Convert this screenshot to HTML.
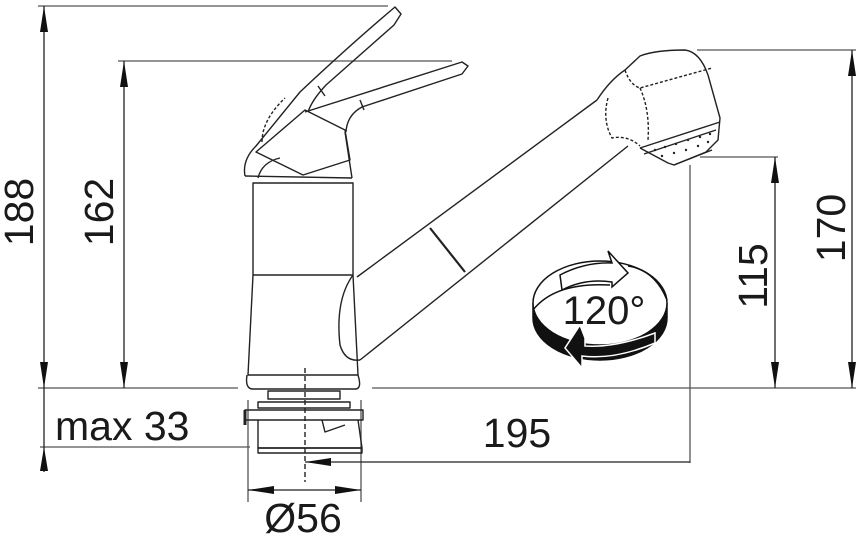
<!DOCTYPE html>
<html><head><meta charset="utf-8"><style>
html,body{margin:0;padding:0;background:#fff;}
svg{display:block;}
text{font-family:"Liberation Sans",sans-serif;fill:#1a1a1a;}
</style></head><body>
<svg width="860" height="536" viewBox="0 0 860 536" xmlns="http://www.w3.org/2000/svg">
<g stroke="#555" stroke-width="1.3" fill="none">
<line x1="38" y1="6" x2="388" y2="6"/>
<line x1="118" y1="61" x2="452" y2="61"/>
<line x1="38" y1="388" x2="238" y2="388"/>
<line x1="372" y1="388" x2="856" y2="388"/>
<line x1="40" y1="447" x2="250" y2="447"/>
<line x1="697" y1="50" x2="856" y2="50"/>
<line x1="700" y1="157" x2="778" y2="157"/>
<line x1="690" y1="165" x2="690" y2="463"/>
<line x1="248" y1="400" x2="248" y2="502"/>
<line x1="361" y1="400" x2="361" y2="502"/>
</g>
<g stroke="#222" stroke-width="1.3" fill="none">
<line x1="44" y1="6" x2="44" y2="388"/>
<line x1="124" y1="61" x2="124" y2="388"/>
<line x1="44" y1="388" x2="44" y2="447"/>
<line x1="44" y1="447" x2="44" y2="472"/>
<line x1="852" y1="50" x2="852" y2="388"/>
<line x1="775" y1="157" x2="775" y2="388"/>
<line x1="690" y1="462" x2="305" y2="462"/>
<line x1="248" y1="490" x2="361" y2="490"/>
</g>
<g fill="#111">
<polygon points="44,6 40,32 48,32"/><polygon points="44,388 40,362 48,362"/>
<polygon points="124,61 120,87 128,87"/><polygon points="124,388 120,362 128,362"/>
<polygon points="44,447 40,471 48,471"/>
<polygon points="852,50 848,76 856,76"/><polygon points="852,388 848,362 856,362"/>
<polygon points="775,157 771,183 779,183"/><polygon points="775,388 771,362 779,362"/>
<polygon points="305,462 331,458 331,466"/>
<polygon points="248,490 274,486 274,494"/><polygon points="361,490 335,486 335,494"/>
</g>
<text transform="translate(33,212) rotate(-90)" text-anchor="middle" font-size="41">188</text>
<text transform="translate(113,212) rotate(-90)" text-anchor="middle" font-size="41">162</text>
<text transform="translate(845,228) rotate(-90)" text-anchor="middle" font-size="41">170</text>
<text transform="translate(767,276) rotate(-90)" text-anchor="middle" font-size="41">115</text>
<text x="55" y="440" font-size="41">max 33</text>
<text x="517" y="447" text-anchor="middle" font-size="41">195</text>
<text x="303" y="532" text-anchor="middle" font-size="41">Ø56</text>

<g stroke="#222" stroke-width="1.4" fill="none" stroke-linejoin="round">
<path d="M245,176 Q242,160 256,146 L300,92 Q350,45 395,7 L401,14 L394,25 L326,85 Q312,100 308,112"/>
<path d="M262,142 Q262,120 285,98" stroke-dasharray="3,2"/>
<line x1="318" y1="86" x2="325" y2="96"/>
<path d="M305,112 L462,62 L468,66 L462,74 L362,107 Q347,115 346,132"/>
<line x1="360" y1="100" x2="364" y2="110"/>
<path d="M256,152 L305,110 L345,130 L350,160 L303,175 Z"/>
<path d="M245,176 L352,178"/>
<path d="M258,178 Q262,162 280,158" />
<path d="M345,132 L352,178"/>
<rect x="253" y="183" width="100" height="92"/>
<path d="M253,275 L248,375 L358,375 L353,275"/>
<path d="M247,375 Q245,388 252,389 L356,389 Q362,388 358,375"/>
<path d="M357,277 L597,100"/>
<path d="M360,360 L628,146"/>
<path d="M353,275 Q335,300 340,345 Q345,362 360,360"/>
<path d="M430,228 L465,272" stroke-width="2.2"/>
<path d="M597,100 Q610,80 625,70 L640,56 Q655,50 685,50 Q700,52 708,75 L720,118 L718,140 L706,152 L674,165 L668,163 L640,148"/>
<path d="M640,148 L720,122 M644,154 L716,130 M674,165 L712,150"/>
<path d="M625,70 Q630,85 640,88 L712,68" stroke-dasharray="3,2"/>
<path d="M608,98 Q602,120 612,138 Q628,135 640,146" stroke-dasharray="3,2"/>
<path d="M640,88 Q650,110 648,140" stroke-dasharray="3,2"/>
<g fill="#222" stroke="none">
<circle cx="655" cy="150" r="1.2"/><circle cx="665" cy="147" r="1.2"/><circle cx="676" cy="144" r="1.2"/><circle cx="688" cy="140" r="1.2"/><circle cx="700" cy="137" r="1.2"/><circle cx="710" cy="134" r="1.2"/>
<circle cx="662" cy="156" r="1.2"/><circle cx="674" cy="153" r="1.2"/><circle cx="686" cy="150" r="1.2"/><circle cx="698" cy="146" r="1.2"/><circle cx="708" cy="142" r="1.2"/>
</g>
<line x1="305" y1="368" x2="305" y2="482" stroke-dasharray="5,3"/>
<rect x="268" y="391" width="72" height="8"/>
<rect x="258" y="402" width="92" height="6"/>
<rect x="245" y="410" width="118" height="10"/>
<path d="M258,420 L258,448 L362,448 L358,420"/>
<rect x="258" y="448" width="104" height="5"/>
<path d="M322,420 L325,432 L345,425"/>
<line x1="245" y1="410" x2="245" y2="425" stroke-width="3"/>
</g>
<g stroke="#111" stroke-width="1.5">
<path d="M533,303 A67,42 0 0 0 667,303 L667,318 A67,42 0 0 1 533,318 Z" fill="#111"/>
<ellipse cx="600" cy="303" rx="67" ry="42" fill="#fff"/>
<path d="M533,310 Q555,282 610,285" fill="none"/>
<path d="M560,275 Q585,262 612,263 L608,251 L628,273 L612,287 L612,282 Q585,278 562,290 Z" fill="#fff"/>
<path d="M628,266 Q655,270 667,300" fill="none"/>
<path d="M585,338 L580,325 L565,348 L582,368 L582,356 Q615,360 655,343 L655,333 Q615,348 585,346 Z" fill="#111" stroke="#fff" stroke-width="1.5"/>
</g>
<text x="604" y="324" text-anchor="middle" font-size="40">120°</text>
</svg>
</body></html>
